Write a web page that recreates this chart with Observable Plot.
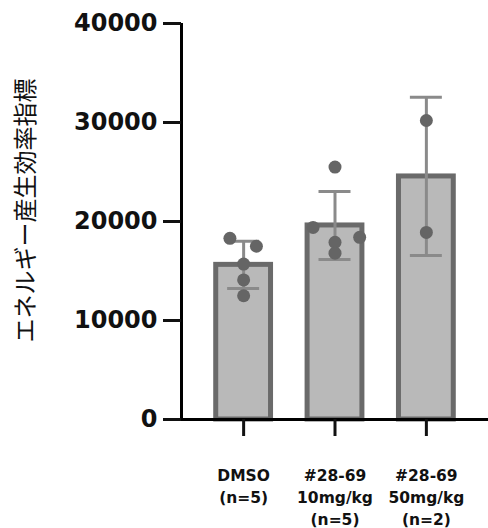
<!DOCTYPE html>
<html>
<head>
<meta charset="utf-8">
<script src="https://cdn.jsdelivr.net/npm/d3@7"></script>
<script src="https://cdn.jsdelivr.net/npm/@observablehq/plot@0.6"></script>
<style>
  body { margin: 0; background: #fff; }
</style>
</head>
<body>
<div id="chart"></div>
<script>
// Group labels (multi-line, shown under each bar)
const groups = ["DMSO\n(n=5)", "#28-69\n10mg/kg\n(n=5)", "#28-69\n50mg/kg\n(n=2)"];

// Individual measurements per group
const dmso = [18300, 17500, 15700, 14100, 12500];
const dose10 = [25500, 19400, 18400, 17900, 16800];
const dose50 = [30200, 18900];

// Horizontal spread of the dots inside each bar (in group units)
const jitter = [[-0.15, 0.14, 0, 0, 0], [0, -0.24, 0.27, 0, 0], [0, 0]];

const yTicks = [0, 10000, 20000, 30000, 40000];
const yTitle = "エネルギー産生効率指標";

const series = [dmso, dose10, dose50];
const points = series.flatMap((vals, i) => vals.map((v, k) => ({i, v, j: jitter[i][k]})));
const stats = series.map((vals, i) => ({i, mean: d3.mean(vals), sd: d3.deviation(vals)}));

const xDomain = [-0.68, 2.68];
const halfBar = 0.3;
const halfCap = 0.175;

const chart = Plot.plot({
  width: 488,
  height: 528,
  marginLeft: 181,
  marginRight: 0,
  marginTop: 23,
  marginBottom: 109,
  style: {background: "#fff", color: "#111"},
  x: {domain: xDomain},
  y: {domain: [0, 40000]},
  marks: [
    Plot.rectY(stats, {
      x1: d => d.i - halfBar, x2: d => d.i + halfBar, y1: 0, y2: "mean",
      fill: "#b9b9b9", stroke: "#6a6a6a", strokeWidth: 5
    }),
    Plot.ruleX(stats, {x: "i", y1: d => d.mean - d.sd, y2: d => d.mean + d.sd, stroke: "#8a8a8a", strokeWidth: 3}),
    Plot.ruleY(stats, {y: d => d.mean + d.sd, x1: d => d.i - halfCap, x2: d => d.i + halfCap, stroke: "#8a8a8a", strokeWidth: 3}),
    Plot.ruleY(stats, {y: d => d.mean - d.sd, x1: d => d.i - halfCap, x2: d => d.i + halfCap, stroke: "#8a8a8a", strokeWidth: 3}),
    Plot.dot(points, {x: d => d.i + d.j, y: "v", r: 6.5, fill: "#656565", stroke: "none"}),
    Plot.ruleY([0], {stroke: "#000", strokeWidth: 3}),
    Plot.ruleX([xDomain[0]], {y1: 0, y2: 40000, stroke: "#000", strokeWidth: 3}),
    Plot.axisY({
      ticks: yTicks, tickFormat: d => String(d), tickSize: 18, tickPadding: 6,
      strokeWidth: 3, fontSize: 24, fontWeight: "bold", fontFamily: "DejaVu Sans",
      label: null
    }),
    Plot.axisX({
      ticks: [0, 1, 2], tickFormat: i => groups[i], tickSize: 17, tickPadding: 29,
      strokeWidth: 3, fontSize: 15.5, fontWeight: "bold", fontFamily: "DejaVu Sans",
      lineHeight: 1.42, label: null
    }),
    Plot.text([yTitle], {
      text: d => d, frameAnchor: "left", textAnchor: "middle", rotate: -90, dx: -155, dy: -11,
      fontSize: 24, fontFamily: "Noto Sans CJK JP", fill: "#111"
    })
  ]
});

document.getElementById("chart").append(chart);
</script>
</body>
</html>
